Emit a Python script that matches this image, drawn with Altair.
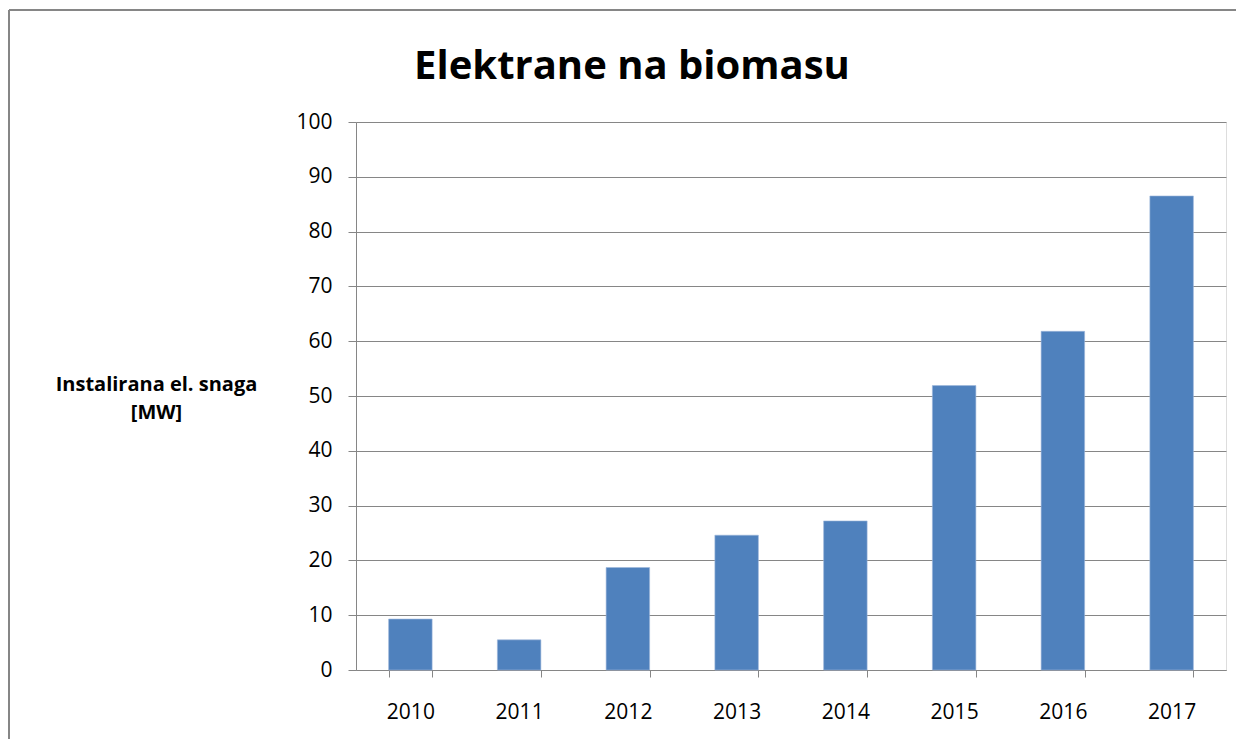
import altair as alt
import pandas as pd

years = ["2010", "2011", "2012", "2013", "2014", "2015", "2016", "2017"]
power_mw = [9.3, 5.5, 18.7, 24.6, 27.2, 51.9, 61.8, 86.5]
y_ticks = [0, 10, 20, 30, 40, 50, 60, 70, 80, 90, 100]

df = pd.DataFrame({"year": years, "power": power_mw})

FONT = "Open Sans"
GRAY = "#868686"

bars = alt.Chart(df).mark_bar(color="#4F81BD", stroke="#9db7db", strokeWidth=0.6).encode(
    x=alt.X(
        "year:O",
        sort=years,
        scale=alt.Scale(paddingInner=0.6, paddingOuter=0.3),
        axis=alt.Axis(
            title=None,
            labelAngle=0,
            labelFont=FONT,
            labelFontSize=21,
            labelColor="black",
            labelPadding=24,
            tickBand="extent",
            tickSize=7,
            tickColor=GRAY,
            domainColor=GRAY,
            grid=False,
        ),
    ),
    y=alt.Y(
        "power:Q",
        scale=alt.Scale(domain=[0, 100], nice=False),
        axis=alt.Axis(
            values=y_ticks,
            title=["Instalirana el. snaga", "[MW]"],
            titleAngle=0,
            titleFont=FONT,
            titleFontSize=20,
            titleFontWeight="bold",
            titleColor="black",
            titleAlign="center",
            titleBaseline="middle",
            titleX=-200,
            titleY=262,
            titleLineHeight=28,
            labelFont=FONT,
            labelFontSize=21,
            labelColor="black",
            labelPadding=16,
            tickSize=8,
            tickColor=GRAY,
            domainColor=GRAY,
            gridColor=GRAY,
            gridWidth=1,
        ),
    ),
)

# outer chart frame (top and left edges, the rest runs off the page)
frame_top = alt.Chart(df).mark_rule(color=GRAY, strokeWidth=1.5).encode(
    x=alt.value(-347), x2=alt.value(880), y=alt.value(-112)
)
frame_left = alt.Chart(df).mark_rule(color=GRAY, strokeWidth=1.5).encode(
    x=alt.value(-347), y=alt.value(-112), y2=alt.value(617)
)

chart = (
    alt.layer(frame_top, frame_left, bars)
    .properties(
        width=870,
        height=548,
        padding={"left": 0, "top": 1, "right": 0, "bottom": 0},
        title=alt.TitleParams(
            "Elektrane na biomasu",
            font=FONT,
            fontSize=40,
            fontWeight="bold",
            color="black",
            anchor="middle",
            frame="group",
            dx=-159,
            dy=110,
            offset=0,
            baseline="alphabetic",
        ),
    )
    .configure_view(stroke=None)
    .configure(background="white")
)

chart.save("out.html", embed_options={"renderer": "svg", "actions": False})
